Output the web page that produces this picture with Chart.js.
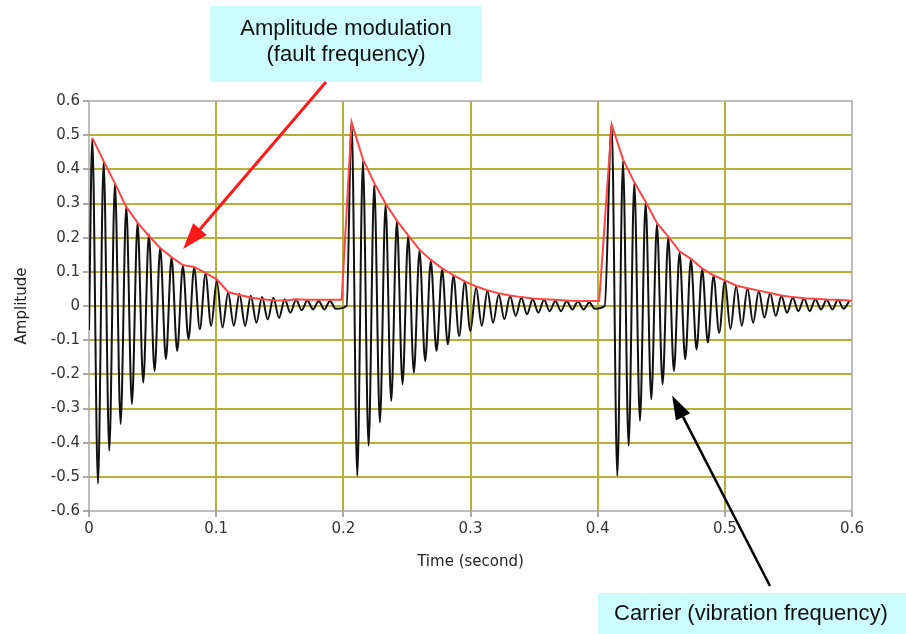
<!DOCTYPE html>
<html>
<head>
<meta charset="utf-8">
<script src="https://cdn.jsdelivr.net/npm/chart.js@4.4.0/dist/chart.umd.min.js"></script>
<style>
  html, body { margin: 0; padding: 0; background: #fff; }
  #wrap { width: 906px; height: 634px; }
</style>
</head>
<body>
<div id="wrap"><canvas id="grafico" width="906" height="634"></canvas></div>
<script>
// axis ticks
const xTicks = [0, 0.1, 0.2, 0.3, 0.4, 0.5, 0.6]
const xTickLabels = ['0', '0.1', '0.2', '0.3', '0.4', '0.5', '0.6']
const yTicks = [-0.6, -0.5, -0.4, -0.3, -0.2, -0.1, 0, 0.1, 0.2, 0.3, 0.4, 0.5, 0.6]
const yTickLabels = ['-0.6', '-0.5', '-0.4', '-0.3', '-0.2', '-0.1', '0', '0.1', '0.2', '0.3', '0.4', '0.5', '0.6']

// carrier: period, time of the first peak of each burst
const carrierPeriod = 0.0089
const burstPeakTimes = [0.0026, 0.2065, 0.411]

// peaks / troughs of each burst
const burst1Peaks = [0.49, 0.424, 0.359, 0.292, 0.244, 0.21, 0.17, 0.141, 0.117, 0.112, 0.094, 0.073, 0.039, 0.035, 0.03, 0.026, 0.024, 0.02, 0.018, 0.016, 0.015, 0.015]
const burst1Troughs = [-0.52, -0.424, -0.345, -0.287, -0.224, -0.19, -0.155, -0.132, -0.097, -0.068, -0.058, -0.063, -0.058, -0.058, -0.049, -0.039, -0.035, -0.02, -0.012, -0.01, -0.01, -0.008]
const burst2Peaks = [0.538, 0.424, 0.355, 0.297, 0.248, 0.205, 0.161, 0.132, 0.107, 0.088, 0.07, 0.054, 0.044, 0.034, 0.029, 0.024, 0.02, 0.018, 0.015, 0.015, 0.013, 0.01]
const burst2Troughs = [-0.497, -0.409, -0.341, -0.278, -0.229, -0.195, -0.161, -0.132, -0.112, -0.088, -0.073, -0.058, -0.049, -0.039, -0.029, -0.024, -0.02, -0.015, -0.015, -0.01, -0.01, -0.008]
const burst3Peaks = [0.531, 0.424, 0.359, 0.302, 0.239, 0.2, 0.156, 0.136, 0.107, 0.088, 0.073, 0.058, 0.051, 0.044, 0.037, 0.029, 0.024, 0.022, 0.02, 0.018, 0.018, 0.015]
const burst3Troughs = [-0.497, -0.409, -0.336, -0.273, -0.229, -0.19, -0.156, -0.127, -0.107, -0.078, -0.068, -0.058, -0.049, -0.034, -0.029, -0.02, -0.015, -0.015, -0.01, -0.01, -0.008]
// where the black trace leaves zero before each burst
const burstStartTimes = [0, 0.2026, 0.4055]
const burstStartValues = [-0.07, 0, 0]

// red envelope, one value per carrier peak
const env1 = [0.492, 0.424, 0.359, 0.29, 0.244, 0.205, 0.17, 0.143, 0.12, 0.114, 0.097, 0.078, 0.041, 0.032, 0.025, 0.02, 0.017, 0.016, 0.02, 0.018, 0.018, 0.018]
const env2 = [0.538, 0.43, 0.36, 0.3, 0.25, 0.207, 0.165, 0.135, 0.11, 0.09, 0.072, 0.057, 0.046, 0.037, 0.031, 0.026, 0.022, 0.02, 0.018, 0.016, 0.015, 0.015]
const env3 = [0.531, 0.43, 0.362, 0.305, 0.243, 0.203, 0.16, 0.138, 0.11, 0.09, 0.075, 0.06, 0.052, 0.045, 0.038, 0.031, 0.026, 0.023, 0.021, 0.019, 0.018, 0.016]
const envFlatTimes = [0.1987, 0.4012, 0.6]
const envFlatValues = [0.018, 0.015, 0.015]

const olive = '#b4b03a'
const frameGray = '#a8a8a8'

function burstPoints(t0, peaks, troughs) {
    const pts = []
    for (let i = 0; i < peaks.length; i++) {
        pts.push({ x: t0 + i * carrierPeriod, y: peaks[i] })
        if (i < troughs.length) pts.push({ x: t0 + (i + 0.5) * carrierPeriod, y: troughs[i] })
    }
    return pts
}

const bursts = [[burst1Peaks, burst1Troughs], [burst2Peaks, burst2Troughs], [burst3Peaks, burst3Troughs]]
const envs = [env1, env2, env3]
let carrier = []
let envelope = []
bursts.forEach((b, k) => {
    carrier.push({ x: burstStartTimes[k], y: burstStartValues[k] })
    carrier = carrier.concat(burstPoints(burstPeakTimes[k], b[0], b[1]))
    envs[k].forEach((v, i) => envelope.push({ x: burstPeakTimes[k] + i * carrierPeriod, y: v }))
    envelope.push({ x: envFlatTimes[k], y: envFlatValues[k] })
})

function arrow(ctx, x1, y1, x2, y2, color, width, headLen, headW) {
    const ang = Math.atan2(y2 - y1, x2 - x1)
    const bx = x2 - headLen * Math.cos(ang)
    const by = y2 - headLen * Math.sin(ang)
    ctx.save()
    ctx.strokeStyle = color
    ctx.fillStyle = color
    ctx.lineWidth = width
    ctx.beginPath()
    ctx.moveTo(x1, y1)
    ctx.lineTo(bx, by)
    ctx.stroke()
    ctx.beginPath()
    ctx.moveTo(x2, y2)
    ctx.lineTo(bx + headW / 2 * Math.sin(ang), by - headW / 2 * Math.cos(ang))
    ctx.lineTo(bx - headW / 2 * Math.sin(ang), by + headW / 2 * Math.cos(ang))
    ctx.closePath()
    ctx.fill()
    ctx.restore()
}

const framePlugin = {
    id: 'frame',
    beforeDatasetsDraw(chart) {
        const a = chart.chartArea
        const ctx = chart.ctx
        ctx.save()
        ctx.strokeStyle = frameGray
        ctx.lineWidth = 1.5
        ctx.strokeRect(a.left, a.top, a.right - a.left, a.bottom - a.top)
        ctx.restore()
    }
}

const notesPlugin = {
    id: 'notes',
    afterDraw(chart) {
        const ctx = chart.ctx
        const xs = chart.scales.x
        const ys = chart.scales.y
        ctx.save()
        // top note
        ctx.fillStyle = '#cdfcfd'
        ctx.fillRect(210, 6, 272, 76)
        ctx.fillStyle = '#111'
        ctx.font = '22px "Liberation Sans", Arial, sans-serif'
        ctx.textAlign = 'center'
        ctx.textBaseline = 'alphabetic'
        ctx.fillText('Amplitude modulation', 346, 35)
        ctx.fillText('(fault frequency)', 346, 61)
        // bottom note
        ctx.fillStyle = '#cdfcfd'
        ctx.fillRect(598, 593, 308, 41)
        ctx.fillStyle = '#111'
        ctx.textAlign = 'left'
        ctx.fillText('Carrier (vibration frequency)', 614, 620)
        ctx.restore()
        arrow(ctx, 326, 82, xs.getPixelForValue(0.074), ys.getPixelForValue(0.167), '#ff1a1a', 3, 26, 18)
        arrow(ctx, 770, 586, xs.getPixelForValue(0.4585), ys.getPixelForValue(-0.262), '#000', 2.5, 24, 16)
    }
}

const data = {
    datasets: [
        {
            label: 'Envelope',
            data: envelope,
            borderColor: 'rgb(255,70,70)',
            borderWidth: 2,
            tension: 0,
            pointRadius: 0,
            order: 0
        },
        {
            label: 'Carrier',
            data: carrier,
            borderColor: '#111',
            borderWidth: 2,
            cubicInterpolationMode: 'monotone',
            pointRadius: 0,
            order: 1
        }
    ]
}

const tickFont = { family: 'DejaVu Sans', size: 15 }

const config = {
    type: 'line',
    data,
    plugins: [framePlugin, notesPlugin],
    options: {
        responsive: false,
        animation: false,
        layout: { padding: { left: 0, top: 101, right: 54, bottom: 59 } },
        plugins: { legend: { display: false }, tooltip: { enabled: false } },
        scales: {
            x: {
                type: 'linear',
                min: 0,
                max: 0.6,
                afterFit: s => { s.height = 64 },
                afterBuildTicks: s => { s.ticks = xTicks.map(v => ({ value: v })) },
                ticks: {
                    callback: (v, i) => xTickLabels[i],
                    color: '#333',
                    padding: 3,
                    maxRotation: 0,
                    font: tickFont
                },
                grid: {
                    color: c => (c.tick && (c.tick.value === 0 || c.tick.value === 0.6)) ? 'rgba(0,0,0,0)' : olive,
                    lineWidth: 2,
                    tickColor: '#555',
                    tickWidth: 1,
                    tickLength: 6
                },
                border: { display: false },
                title: {
                    display: true,
                    text: 'Time (second)',
                    color: '#222',
                    padding: { top: 4, bottom: 4 },
                    font: { family: 'DejaVu Sans', size: 15 }
                }
            },
            y: {
                min: -0.6,
                max: 0.6,
                afterFit: s => { s.width = 89 },
                afterBuildTicks: s => { s.ticks = yTicks.map(v => ({ value: v })) },
                ticks: {
                    callback: (v, i) => yTickLabels[i],
                    color: '#333',
                    padding: 3,
                    font: tickFont
                },
                grid: {
                    color: c => (c.tick && (c.tick.value === -0.6 || c.tick.value === 0.6)) ? 'rgba(0,0,0,0)' : olive,
                    lineWidth: 2,
                    tickColor: '#555',
                    tickWidth: 1,
                    tickLength: 6
                },
                border: { display: false },
                title: {
                    display: true,
                    text: 'Amplitude',
                    color: '#222',
                    padding: { top: 13, bottom: 0 },
                    font: { family: 'DejaVu Sans', size: 15 }
                }
            }
        }
    }
}

const chart = document.getElementById('grafico')
const myChart = new Chart(chart, config)
</script>
</body>
</html>
